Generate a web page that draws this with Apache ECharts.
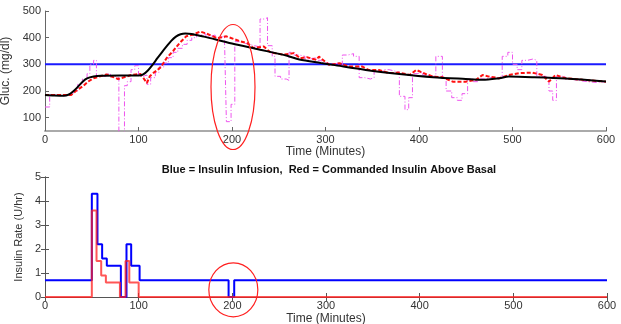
<!DOCTYPE html>
<html><head><meta charset="utf-8">
<script src="https://cdn.jsdelivr.net/npm/echarts@6/dist/echarts.min.js"></script>
<style>html,body{margin:0;padding:0;background:#fff}#c{width:621px;height:324px}</style>
</head><body><div id="c"></div>
<script>
// ---- Data ----
const xTicks = [0, 100, 200, 300, 400, 500, 600];
const glucTicks = [100, 200, 300, 400, 500];
const targetGlucose = 300;
// black: model glucose [t, mg/dl]
const modelGlucose = [[0,185],[10,183],[20,182],[25,186],[30,198],[35,215],[40,234],[45,247],[52,254],[60,257],[80,258],[100,258],[105,262],[110,277],[115,298],[120,322],[125,345],[130,367],[135,388],[140,404],[145,413],[150,416],[157,414],[170,404],[200,378],[230,355],[259,332],[272,318],[295,305],[308,298],[343,279],[379,264],[415,252],[450,245],[468,242],[486,248],[496,254],[521,252],[557,247],[600,236]];
// red dashed: sensor estimate
const sensorEstimate = [[0,185],[10,185],[20,185],[28,185],[33,200],[41,219],[46,235],[52,248],[59,255],[66,262],[70,255],[75,250],[78,245],[80,238],[87,254],[92,260],[102,264],[105,250],[109,230],[112,255],[116,268],[120,278],[124,290],[130,323],[137,350],[144,380],[151,405],[158,411],[166,423],[173,415],[184,398],[194,405],[209,386],[216,380],[223,361],[234,367],[241,345],[255,336],[266,342],[273,323],[280,327],[290,317],[293,329],[304,298],[315,304],[325,292],[339,292],[346,279],[357,279],[368,267],[379,269],[390,260],[397,279],[407,264],[415,254],[425,252],[436,235],[450,235],[461,242],[468,260],[475,254],[486,248],[496,260],[507,267],[521,269],[532,260],[539,235],[546,260],[557,248],[575,242],[600,235]];
// magenta dash-dot: raw sensor
const rawSensor = [[0,140],[5,185],[10,183],[15,182],[20,184],[25,190],[30,200],[35,225],[40,245],[45,265],[48,300],[52,315],[55,255],[60,255],[65,265],[70,255],[75,250],[79,40],[85,220],[88,235],[92,280],[96,295],[100,255],[105,260],[109,225],[113,250],[118,270],[122,290],[127,305],[132,325],[137,345],[142,360],[147,375],[152,390],[157,400],[162,410],[167,415],[172,405],[177,410],[182,400],[187,405],[192,390],[194,85],[199,150],[203,385],[208,380],[213,375],[218,370],[224,365],[230,470],[235,475],[238,370],[243,330],[246,255],[252,245],[258,240],[261,345],[266,335],[272,330],[278,320],[284,325],[290,315],[296,305],[302,300],[308,305],[314,295],[318,335],[324,340],[330,330],[336,250],[342,245],[348,250],[352,275],[356,270],[362,280],[368,275],[374,270],[379,180],[385,130],[389,175],[393,265],[398,270],[404,260],[410,255],[414,255],[418,330],[422,330],[425,250],[429,200],[435,175],[441,165],[446,190],[452,245],[458,235],[464,245],[470,250],[476,250],[482,250],[489,330],[495,345],[500,300],[505,280],[510,315],[516,320],[522,315],[526,255],[530,255],[536,250],[539,200],[543,165],[547,255],[552,255],[556,245],[562,240],[570,235],[580,232],[590,235],[600,235]];
// bottom: insulin [t, U/hr], zero-order hold
const insulinInfusion = [[0,0.7],[50,4.3],[56,2.2],[61,1.6],[66,1.3],[81,0],[87,2.2],[92,1.3],[101,0.7],[196,0],[202,0.7],[600,0.7]];
const commandedAboveBasal = [[0,0],[50,3.6],[55,1.5],[60,0.9],[65,0.6],[80,0],[86,1.5],[90,0.6],[100,0],[600,0]];
const insulinTicks = [0, 1, 2, 3, 4, 5];

const FONT = 'Liberation Sans';
const chart = echarts.init(document.getElementById('c'), null, {renderer: 'canvas'});
const lbl = {color: '#333', fontFamily: FONT, fontSize: 11};
const opt = {
  animation: false,
  textStyle: {fontFamily: FONT},
  title: {text: 'Blue = Insulin Infusion,  Red = Commanded Insulin Above Basal', left: 324, top: 159, textAlign: 'center',
    textStyle: {fontSize: 11, fontWeight: 'bold', color: '#111', fontFamily: FONT}},
  grid: [
    {left: 45, right: 15, top: 11, height: 120, containLabel: false, outerBoundsMode: 'none'},
    {left: 45, right: 14, top: 177, height: 120, containLabel: false, outerBoundsMode: 'none'}
  ],
  xAxis: [
    {gridIndex: 0, type: 'value', min: 0, max: 600, interval: 100, name: 'Time (Minutes)', nameLocation: 'middle', nameGap: 15,
     nameTextStyle: {color: '#333', fontSize: 12, fontFamily: FONT},
     axisLine: {lineStyle: {color: '#aaa', width: 2}}, axisTick: {inside: true, length: 4, lineStyle: {color: '#666'}},
     axisLabel: Object.assign({margin: 3}, lbl), splitLine: {show: false}},
    {gridIndex: 1, type: 'value', min: 0, max: 600, interval: 100, name: 'Time (Minutes)', nameLocation: 'middle', nameGap: 16,
     nameTextStyle: {color: '#333', fontSize: 12, fontFamily: FONT},
     axisLine: {lineStyle: {color: '#555', width: 1}}, axisTick: {inside: true, length: 4, lineStyle: {color: '#555'}},
     axisLabel: Object.assign({margin: 3}, lbl), splitLine: {show: false}},
    {gridIndex: 1, type: 'value', position: 'top', min: 0, max: 600, interval: 100,
     axisLine: {lineStyle: {color: '#555', width: 1}}, axisTick: {inside: true, length: 4, lineStyle: {color: '#555'}},
     axisLabel: {show: false}, splitLine: {show: false}}
  ],
  yAxis: [
    {gridIndex: 0, type: 'value', min: 50, max: 500, interval: 50, name: 'Gluc. (mg/dl)', nameLocation: 'middle', nameGap: 27,
     nameTextStyle: {color: '#333', fontSize: 12, fontFamily: FONT},
     axisLine: {show: true, lineStyle: {color: '#666'}}, axisTick: {inside: true, length: 4, lineStyle: {color: '#666'},
       customValues: glucTicks},
     axisLabel: Object.assign({margin: 4, customValues: glucTicks}, lbl), splitLine: {show: false}},
    {gridIndex: 1, type: 'value', min: 0, max: 5, interval: 1, name: 'Insulin Rate (U/hr)', nameLocation: 'middle', nameGap: 15,
     nameTextStyle: {color: '#333', fontSize: 11, fontFamily: FONT},
     axisLine: {show: true, lineStyle: {color: '#555'}}, axisTick: {inside: true, length: 4, lineStyle: {color: '#555'}},
     axisLabel: Object.assign({margin: 4}, lbl), splitLine: {show: false}},
    {gridIndex: 1, type: 'value', position: 'right', min: 0, max: 5, interval: 1,
     axisLine: {show: true, lineStyle: {color: '#555'}}, axisTick: {inside: true, length: 4, lineStyle: {color: '#555'}},
     axisLabel: {show: false}, splitLine: {show: false}}
  ],
  series: [
    {type: 'line', xAxisIndex: 0, yAxisIndex: 0, data: [[0, targetGlucose], [600, targetGlucose]], showSymbol: false,
     lineStyle: {color: '#1a1aff', width: 2}, z: 2},
    {type: 'line', xAxisIndex: 0, yAxisIndex: 0, data: rawSensor, step: 'end', showSymbol: false, clip: true,
     lineStyle: {color: '#ee55ee', width: 1, type: [5, 2, 1, 2]}, z: 3},
    {type: 'line', xAxisIndex: 0, yAxisIndex: 0, data: sensorEstimate, showSymbol: false,
     lineStyle: {color: '#ff1010', width: 2, type: [4, 2]}, z: 4},
    {type: 'line', xAxisIndex: 0, yAxisIndex: 0, data: modelGlucose, showSymbol: false, smooth: 0.3,
     lineStyle: {color: '#000', width: 2}, z: 5},
    {type: 'line', xAxisIndex: 1, yAxisIndex: 1, data: insulinInfusion, step: 'end', showSymbol: false,
     lineStyle: {color: '#0000ff', width: 2}, z: 3},
    {type: 'line', xAxisIndex: 1, yAxisIndex: 1, data: commandedAboveBasal, step: 'end', showSymbol: false,
     lineStyle: {color: 'rgba(255,30,30,0.75)', width: 2}, z: 4}
  ]
};
chart.setOption(opt);
// annotation ellipses around t=200
const c1 = chart.convertToPixel({gridIndex: 0}, [200, 215]);
const c2 = chart.convertToPixel({gridIndex: 1}, [200, 0.3]);
chart.setOption({graphic: [
  {type: 'ellipse', shape: {cx: c1[0] + 1, cy: c1[1], rx: 22, ry: 62.5}, style: {fill: 'none', stroke: '#ff2020', lineWidth: 1.2}, z: 10},
  {type: 'ellipse', shape: {cx: c2[0] + 1, cy: c2[1], rx: 24.5, ry: 27}, style: {fill: 'none', stroke: '#ff2020', lineWidth: 1.2}, z: 10}
]});
</script></body></html>
